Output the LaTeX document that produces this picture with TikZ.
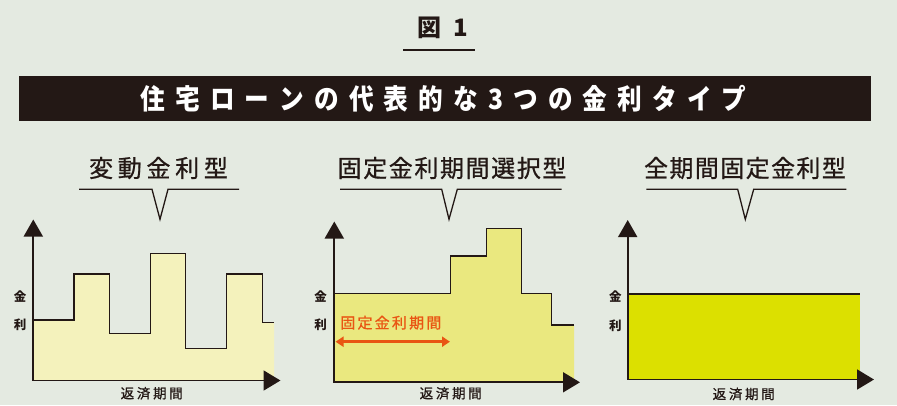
\documentclass[tikz,border=0pt]{standalone}
\usepackage{fontspec}
\usetikzlibrary{arrows.meta}
\newfontfamily\jp{Noto Sans CJK JP}
\newfontfamily\jpm{Noto Sans CJK JP}[FakeBold=0.8]
\definecolor{bgc}{HTML}{E4EAE1}
\definecolor{inkc}{HTML}{231815}
\definecolor{fillA}{HTML}{F4F2BC}
\definecolor{fillB}{HTML}{EAE87F}
\definecolor{fillC}{HTML}{DCE000}
\definecolor{orng}{HTML}{E95513}
\makeatletter
\newcommand\tracked[2]{\def\trk@gap{\hspace{#1}}\trk@first#2\relax}
\def\trk@first#1{#1\trk@loop}
\def\trk@loop#1{\ifx#1\relax\else\trk@gap#1\expandafter\trk@loop\fi}
\makeatother
\begin{document}
\begin{tikzpicture}[x=1pt,y=-1pt,
  every node/.style={inner sep=0pt, outer sep=0pt, text=inkc, font=\jp},
  ink/.style={draw=inkc, line width=1.3pt, line join=miter},
  axis/.style={draw=inkc, line width=1.7pt, {Triangle[width=19pt,length=17pt]}-{Triangle[width=20pt,length=17pt]}},
  header/.style={font=\jpm\fontsize{24}{24}\selectfont},
  ylab/.style={font=\jp\bfseries\fontsize{12.5}{12.5}\selectfont},
  xlab/.style={font=\jpm\fontsize{13.5}{13.5}\selectfont}]
\useasboundingbox (0,0) rectangle (897,405);
\fill[bgc] (0,0) rectangle (897,405);
% title
\node[font=\jp\bfseries\fontsize{24}{24}\selectfont] (title) at (442.5,28) {図\hspace{12pt}1};
\draw[inkc, line width=2pt] (403,50) -- (475,50);
% banner
\fill[inkc] (19,76) rectangle (871,121);
\node[text=white, font=\jp\bfseries\fontsize{28}{28}\selectfont] (banner) at (443.5,99)
  {\scalebox{0.88}[1]{\tracked{11.5pt}{住宅ローンの代表的な3つの金利タイプ}}};
% headers
\node[header] (h1) at (158.5,168) {\tracked{4.7pt}{変動金利型}};
\node[header] (h2) at (452,168) {\tracked{1.6pt}{固定金利期間選択型}};
\node[header] (h3) at (745,168) {\tracked{1.4pt}{全期間固定金利型}};
\draw[ink] (79,189.3) -- (152,189.3) -- (160,219.3) -- (168,189.3) -- (239,189.3);
\draw[ink] (340,189.3) -- (441.7,189.3) -- (449,219.3) -- (457.3,189.3) -- (561.7,189.3);
\draw[ink] (646.3,189.3) -- (737.7,189.3) -- (745.3,219.3) -- (753.7,189.3) -- (846.3,189.3);
% panel 1
\coordinate (o1) at (33.3,380.5);
\coordinate (y1) at (33.3,219.5);
\coordinate (x1) at (280.5,380.5);
\fill[fillA] (33.3,320) -- (74,320) -- (74,274) -- (109.3,274) -- (109.3,333.3) -- (150.7,333.3)
  -- (150.7,253.3) -- (185.3,253.3) -- (185.3,348.3) -- (226.7,348.3) -- (226.7,274)
  -- (262.3,274) -- (262.3,322.7) -- (274,322.7) -- (274,380.5) -- (33.3,380.5) -- cycle;
\draw[ink] (33.3,320) -- (74,320) -- (74,274) -- (109.3,274) -- (109.3,333.3) -- (150.7,333.3)
  -- (150.7,253.3) -- (185.3,253.3) -- (185.3,348.3) -- (226.7,348.3) -- (226.7,274)
  -- (262.3,274) -- (262.3,322.7) -- (274,322.7);
\draw[axis] (y1) -- (o1) -- (x1);
\node[ylab] (k1) at (20,296.7) {金};
\node[ylab] (r1) at (20,325) {利};
\node[xlab] (t1) at (151.7,393.3) {\tracked{2.7pt}{返済期間}};
% panel 2
\coordinate (o2) at (334.3,382.3);
\coordinate (y2) at (334.3,221.5);
\coordinate (x2) at (580,382.3);
\fill[fillB] (334.3,293.3) -- (450.7,293.3) -- (450.7,256) -- (486.7,256) -- (486.7,228.3)
  -- (521.7,228.3) -- (521.7,293.3) -- (551.7,293.3) -- (551.7,325) -- (574,325)
  -- (574,382.3) -- (334.3,382.3) -- cycle;
\draw[ink] (334.3,293.3) -- (450.7,293.3) -- (450.7,256) -- (486.7,256) -- (486.7,228.3)
  -- (521.7,228.3) -- (521.7,293.3) -- (551.7,293.3) -- (551.7,325) -- (574,325);
\draw[axis] (y2) -- (o2) -- (x2);
\node[ylab] (k2) at (320.7,296.7) {金};
\node[ylab] (r2) at (320.7,325) {利};
\node[xlab] (t2) at (450.7,393.3) {\tracked{2.7pt}{返済期間}};
\node[text=orng, font=\jpm\fontsize{15}{15}\selectfont] (fl) at (390.8,322.7) {\tracked{2.2pt}{固定金利期間}};
\coordinate (fa) at (335.5,341.7);
\coordinate (fb) at (450,341.7);
\draw[orng, line width=2.8pt, {Triangle[width=10pt,length=8pt]}-{Triangle[width=10pt,length=8pt]}] (fa) -- (fb);
% panel 3
\coordinate (o3) at (627.7,379.5);
\coordinate (y3) at (627.7,220);
\coordinate (x3) at (874,379.5);
\fill[fillC] (627.7,294) rectangle (860.3,379.5);
\draw[ink] (627.7,294) -- (860.3,294);
\draw[axis] (y3) -- (o3) -- (x3);
\node[ylab] (k3) at (615.3,296.7) {金};
\node[ylab] (r3) at (615.3,325.7) {利};
\node[xlab] (t3) at (743.7,394) {\tracked{2.7pt}{返済期間}};
\end{tikzpicture}
\end{document}
